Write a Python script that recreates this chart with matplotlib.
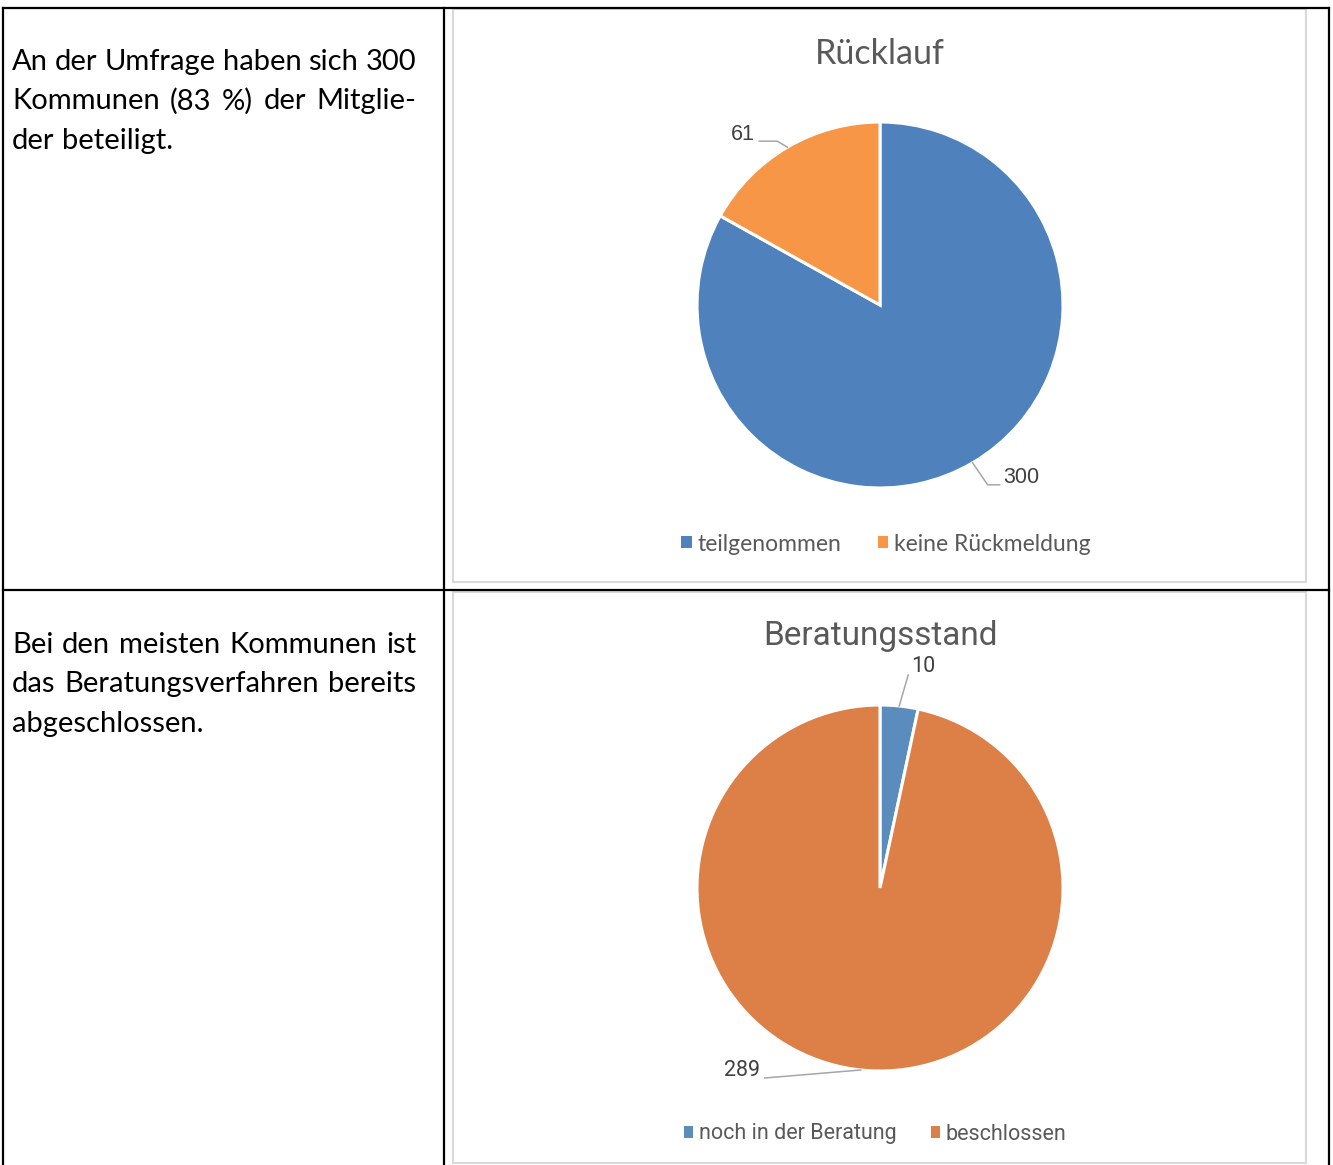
import numpy as np
import matplotlib
matplotlib.use("Agg")
import matplotlib.pyplot as plt
from matplotlib.lines import Line2D
from matplotlib.patches import Rectangle

# chart data
titles = ["Rücklauf", "Beratungsstand"]
labels_1 = ["teilgenommen", "keine Rückmeldung"]
values_1 = [300, 61]
labels_2 = ["noch in der Beratung", "beschlossen"]
values_2 = [10, 289]

# text of the left column, already broken into lines like the original
para_1 = ["An der Umfrage haben sich 300",
          "Kommunen (83 %) der Mitglie-",
          "der beteiligt."]
para_2 = ["Bei den meisten Kommunen ist",
          "das Beratungsverfahren bereits",
          "abgeschlossen."]

W, H = 1333, 1165
fig = plt.figure(figsize=(W / 100, H / 100), dpi=100)
fig.patch.set_facecolor("white")


def fx(x):
    return x / W


def fy(y):
    return 1 - y / H


# table grid
black = dict(color="black", linewidth=1.6, solid_capstyle="projecting")
for (x0, y0, x1, y1) in [(3, 8, 1329, 8), (3, 590, 1329, 590),
                         (3, 8, 3, 1165), (444, 8, 444, 1165), (1329, 8, 1329, 1165)]:
    fig.add_artist(Line2D([fx(x0), fx(x1)], [fy(y0), fy(y1)], **black))

# chart frames
for (x0, y0, x1, y1) in [(453, 9, 1306, 582), (453, 592, 1306, 1163)]:
    fig.add_artist(Rectangle((fx(x0), fy(y1)), fx(x1) - fx(x0), fy(y0) - fy(y1),
                             fill=False, edgecolor="#D9D9D9", linewidth=1.5))

# justified paragraph text
renderer = fig.canvas.get_renderer()
TXT = dict(fontsize=21, family="Lato")


def paragraph(lines, y_first, step=39.3, x0=12, x1=416):
    tmp1 = fig.text(0, 0, "a b", **TXT)
    tmp2 = fig.text(0, 0, "ab", **TXT)
    normal_gap = (tmp1.get_window_extent(renderer).width
                  - tmp2.get_window_extent(renderer).width)
    tmp1.remove(); tmp2.remove()
    for i, line in enumerate(lines):
        y = y_first + i * step
        words = line.split(" ")
        arts = [fig.text(0, fy(y), w, va="center", ha="left", color="black", **TXT)
                for w in words]
        widths = [a.get_window_extent(renderer).width for a in arts]
        if i == len(lines) - 1 or len(words) == 1:
            gap = normal_gap
        else:
            gap = (x1 - x0 - sum(widths)) / (len(words) - 1)
        x = x0
        for a, w in zip(arts, widths):
            a.set_x(fx(x))
            x += w + gap


paragraph(para_1, 62)
paragraph(para_2, 645)


def pie_chart(cy, values, names, colors, title, title_y, title_font, label_font,
              legend_font, label_offsets, legend_x, legend_y, colspace):
    r = 183
    ax = fig.add_axes([fx(880 - r), fy(cy + r), 2 * r / W, 2 * r / H])
    wedges, _ = ax.pie(values, colors=colors, startangle=90, counterclock=False,
                       wedgeprops=dict(edgecolor="white", linewidth=2.2))
    ax.set_xlim(-1, 1)
    ax.set_ylim(-1, 1)
    ax.set_aspect("equal")
    ax.axis("off")

    for wdg, v, offs in zip(wedges, values, label_offsets):
        th = np.deg2rad((wdg.theta1 + wdg.theta2) / 2)
        ex, ey = np.cos(th), np.sin(th)
        pts = [(ex, ey)] + [(ex + dx / r, ey + dy / r) for dx, dy in offs[:-1]]
        xs, ys = zip(*pts)
        ax.plot(xs, ys, color="#A6A6A6", linewidth=1.1, clip_on=False)
        tx, ty = offs[-1]
        ax.text(ex + tx / r, ey + ty / r, str(v), fontsize=label_font[1],
                family=label_font[0], color="#404040", ha="center", va="center")

    fig.text(fx(880), fy(title_y), title, fontsize=title_font[1], family=title_font[0],
             color="#595959", ha="center", va="center")
    fig.legend(wedges, names, loc="center", bbox_to_anchor=(fx(legend_x), fy(legend_y)),
               ncol=2, frameon=False, handlelength=0.45, handleheight=0.45,
               handletextpad=0.25, columnspacing=colspace,
               prop=dict(family=legend_font[0], size=legend_font[1]),
               labelcolor="#595959")
    for h in fig.legends[-1].legend_handles:
        h.set_edgecolor("none")


# Rücklauf
pie_chart(305, values_1, labels_1, ["#4F81BD", "#F79646"], titles[0], 54,
          ("Lato", 24.5), ("Liberation Sans", 15.5), ("Lato", 16.5),
          [[(15, -22), (27, -22), (49, -15)], [(-10, 6), (-28, 6), (-45, 13)]],
          886, 544, 1.6)

# Beratungsstand
pie_chart(888, values_2, labels_2, ["#5A8DBE", "#DD8048"], titles[1], 636,
          ("Roboto", 24), ("Roboto", 15.5), ("Roboto", 15.5),
          [[(9, 31), (24, 40)], [(-96, -8), (-119, -1)]],
          875, 1134, 1.6)

fig.savefig("out.png", dpi=100)
